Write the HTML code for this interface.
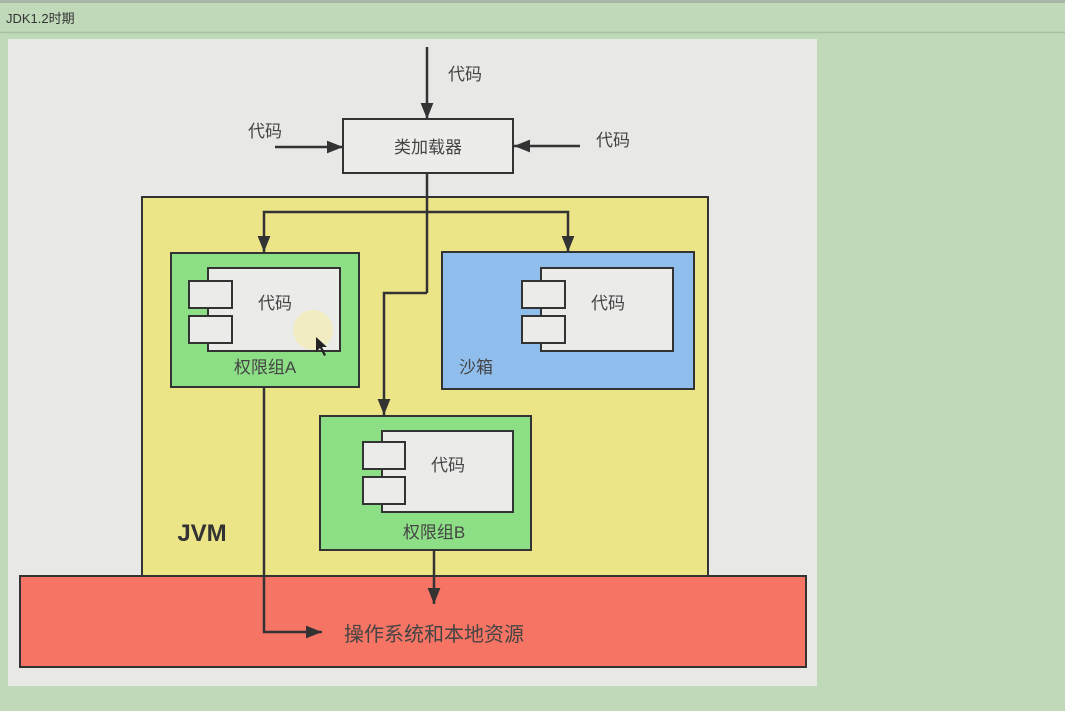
<!DOCTYPE html>
<html><head><meta charset="utf-8"><style>
html,body{margin:0;padding:0;width:1065px;height:711px;overflow:hidden;background:#c0dab9;}
svg{display:block}
text{font-family:"Liberation Sans","Noto Sans CJK SC",sans-serif;fill:#444;}
</style></head><body>
<svg width="1065" height="711" viewBox="0 0 1065 711">
<defs>
<marker id="b" viewBox="0 0 10 10" markerWidth="16" markerHeight="16" refX="10" refY="5" orient="auto" markerUnits="userSpaceOnUse"><path d="M0,1 L10,5 L0,9 z" fill="#333"/></marker></defs>
<rect x="0" y="0" width="1065" height="3" fill="#a9b5a9"/>
<text x="6" y="23" font-size="13" style="fill:#333">JDK1.2时期</text>
<line x1="0" y1="32.5" x2="1065" y2="32.5" stroke="#a6c3a0" stroke-width="1.5"/>
<rect x="8" y="39" width="809" height="647" fill="#e8e8e6"/>
<rect x="142" y="197" width="566" height="380" fill="#ece587" stroke="#333" stroke-width="2"/>
<g stroke="#333" stroke-width="2.5" fill="none">
<line x1="427" y1="47" x2="427" y2="119" marker-end="url(#b)"/>
<line x1="275" y1="147" x2="343" y2="147" marker-end="url(#b)"/>
<line x1="580" y1="146" x2="514" y2="146" marker-end="url(#b)"/>
<line x1="427" y1="173" x2="427" y2="293"/>
<polyline points="427,212 264,212 264,252" marker-end="url(#b)"/>
<polyline points="427,212 568,212 568,252" marker-end="url(#b)"/>
<polyline points="427,293 384,293 384,415" marker-end="url(#b)"/>
</g>
<rect x="343" y="119" width="170" height="54" fill="#ececea" stroke="#333" stroke-width="2"/>
<text x="428" y="153" font-size="17" text-anchor="middle">类加载器</text>
<text x="465" y="80" font-size="17" text-anchor="middle">代码</text>
<text x="265" y="137" font-size="17" text-anchor="middle">代码</text>
<text x="613" y="146" font-size="17" text-anchor="middle">代码</text>
<rect x="171" y="253" width="188" height="134" fill="#8ddf86" stroke="#333" stroke-width="2"/>
<rect x="208" y="268" width="132" height="83" fill="#ebebea" stroke="#333" stroke-width="2"/>
<rect x="189" y="281" width="43" height="27" fill="#ebebea" stroke="#333" stroke-width="2"/>
<rect x="189" y="316" width="43" height="27" fill="#ebebea" stroke="#333" stroke-width="2"/>
<text x="275" y="309" font-size="17" text-anchor="middle">代码</text>
<text x="265" y="373" font-size="17" text-anchor="middle">权限组A</text>
<circle cx="313" cy="330" r="20" fill="#f3ecb0" opacity="0.7"/>
<path d="M316,337 L316,352 L320,348 L324,356 L326,355 L322,347 L327,347 z" fill="#222"/>
<rect x="442" y="252" width="252" height="137" fill="#8fbdec" stroke="#333" stroke-width="2"/>
<rect x="541" y="268" width="132" height="83" fill="#ebebea" stroke="#333" stroke-width="2"/>
<rect x="522" y="281" width="43" height="27" fill="#ebebea" stroke="#333" stroke-width="2"/>
<rect x="522" y="316" width="43" height="27" fill="#ebebea" stroke="#333" stroke-width="2"/>
<text x="608" y="309" font-size="17" text-anchor="middle">代码</text>
<text x="476" y="373" font-size="17" text-anchor="middle">沙箱</text>
<rect x="320" y="416" width="211" height="134" fill="#8ddf86" stroke="#333" stroke-width="2"/>
<rect x="382" y="431" width="131" height="81" fill="#ebebea" stroke="#333" stroke-width="2"/>
<rect x="363" y="442" width="42" height="27" fill="#ebebea" stroke="#333" stroke-width="2"/>
<rect x="363" y="477" width="42" height="27" fill="#ebebea" stroke="#333" stroke-width="2"/>
<text x="448" y="471" font-size="17" text-anchor="middle">代码</text>
<text x="434" y="538" font-size="17" text-anchor="middle">权限组B</text>
<text x="202" y="541" font-size="24" font-weight="bold" text-anchor="middle" style="fill:#333">JVM</text>
<rect x="20" y="576" width="786" height="91" fill="#f57464" stroke="#333" stroke-width="2"/>
<g stroke="#333" stroke-width="2.5" fill="none">
<polyline points="264,387 264,632 322,632" marker-end="url(#b)"/>
<line x1="434" y1="550" x2="434" y2="604" marker-end="url(#b)"/>
</g>
<text x="434" y="641" font-size="20" text-anchor="middle" style="fill:#444">操作系统和本地资源</text>
</svg>
</body></html>
